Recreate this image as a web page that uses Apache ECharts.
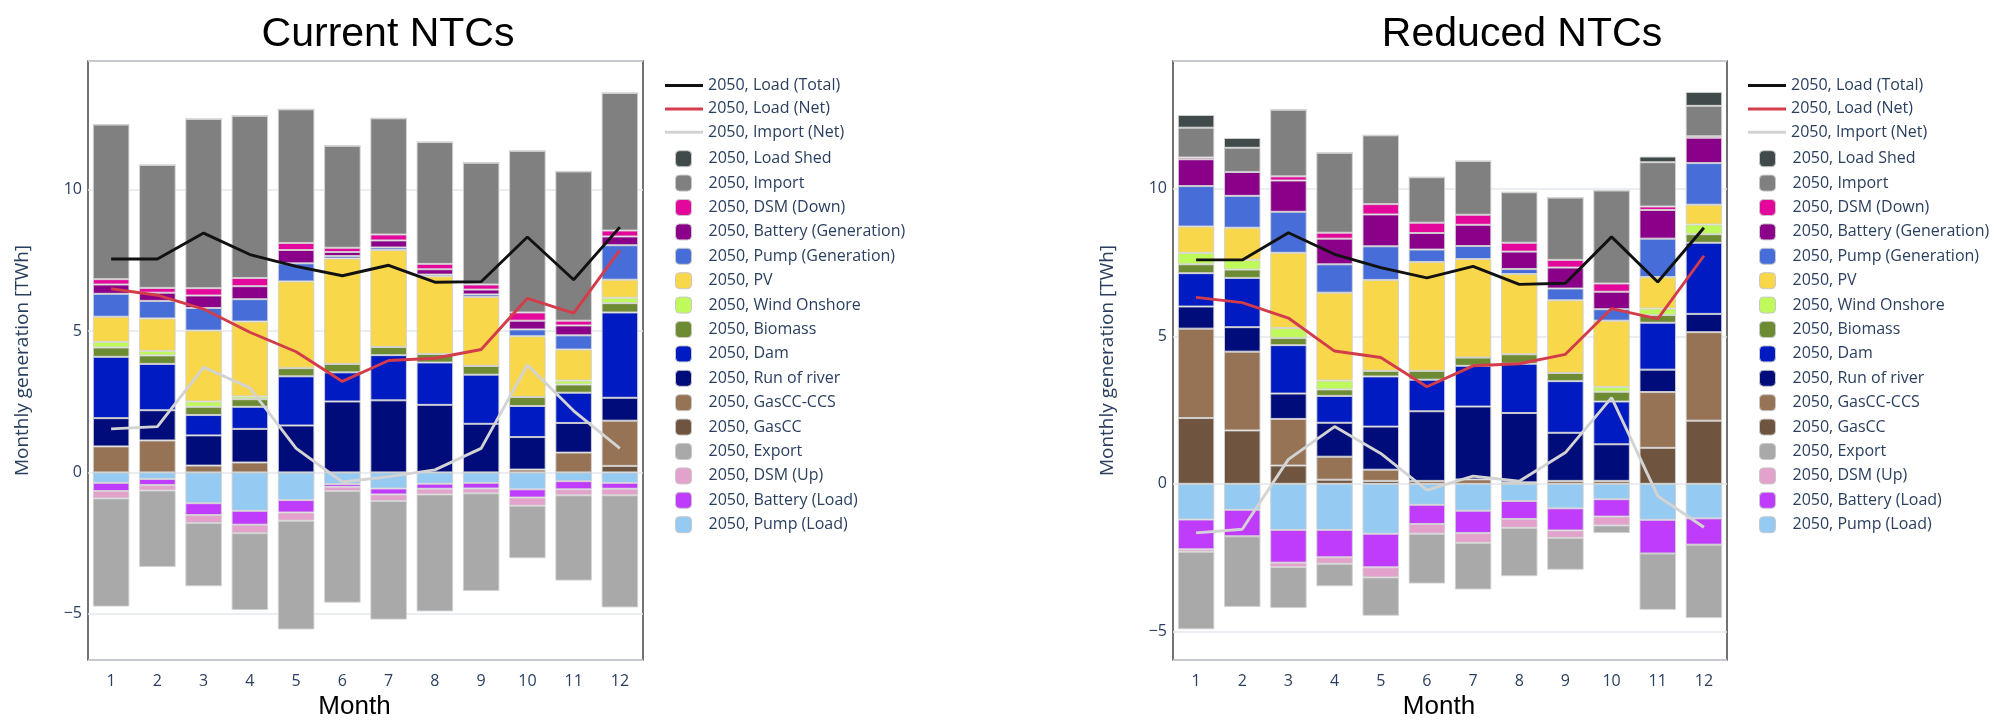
<!DOCTYPE html>
<html>
<head>
<meta charset="utf-8">
<script src="https://cdn.jsdelivr.net/npm/echarts@6/dist/echarts.min.js"></script>
<style>
html, body { margin: 0; padding: 0; background: #fff; }
#chart { width: 2010px; height: 725px; }
</style>
</head>
<body>
<div id="chart"></div>
<script>
// months on the x axis
var months = ['1', '2', '3', '4', '5', '6', '7', '8', '9', '10', '11', '12'];

// Current NTCs (TWh)
var curGasCC     = [0, 0, 0, 0, 0, 0, 0, 0, 0, 0, 0, 0.23];
var curGasCCS    = [0.92, 1.13, 0.24, 0.35, 0, 0, 0, 0, 0, 0.1, 0.70, 1.60];
var curRor       = [1.00, 1.07, 1.07, 1.19, 1.66, 2.51, 2.55, 2.39, 1.72, 1.15, 1.05, 0.81];
var curDam       = [2.17, 1.64, 0.72, 0.78, 1.74, 1.03, 1.60, 1.50, 1.74, 1.10, 1.07, 3.02];
var curBiomass   = [0.33, 0.30, 0.29, 0.27, 0.29, 0.30, 0.29, 0.30, 0.31, 0.32, 0.29, 0.33];
var curWind      = [0.20, 0.16, 0.19, 0.10, 0, 0, 0, 0, 0, 0, 0.14, 0.19];
var curPV        = [0.89, 1.15, 2.51, 2.65, 3.07, 3.73, 3.43, 2.75, 2.44, 2.15, 1.10, 0.64];
var curPumpGen   = [0.81, 0.62, 0.80, 0.79, 0.64, 0.09, 0.09, 0.06, 0.09, 0.24, 0.50, 1.22];
var curBattGen   = [0.33, 0.29, 0.44, 0.46, 0.47, 0.14, 0.25, 0.19, 0.17, 0.31, 0.35, 0.31];
var curDsmDown   = [0.19, 0.17, 0.26, 0.29, 0.25, 0.15, 0.21, 0.19, 0.18, 0.29, 0.17, 0.21];
var curImport    = [5.47, 4.35, 5.99, 5.74, 4.73, 3.61, 4.11, 4.31, 4.31, 5.72, 5.28, 4.87];
var curLoadShed  = [0, 0, 0, 0, 0, 0, 0, 0, 0, 0, 0, 0];
var curPumpLoad  = [-0.37, -0.23, -1.09, -1.36, -0.98, -0.41, -0.57, -0.40, -0.37, -0.60, -0.31, -0.37];
var curBattLoad  = [-0.29, -0.22, -0.42, -0.49, -0.44, -0.10, -0.21, -0.18, -0.20, -0.29, -0.29, -0.21];
var curDsmUp     = [-0.26, -0.19, -0.28, -0.30, -0.29, -0.15, -0.23, -0.20, -0.17, -0.29, -0.21, -0.23];
var curExport    = [-3.83, -2.71, -2.24, -2.72, -3.85, -3.95, -4.20, -4.14, -3.46, -1.86, -3.02, -3.97];
var curLoadTotal = [7.55, 7.55, 8.47, 7.71, 7.29, 6.96, 7.33, 6.73, 6.75, 8.33, 6.82, 8.68];
var curLoadNet   = [6.50, 6.27, 5.78, 4.96, 4.27, 3.22, 3.96, 4.04, 4.35, 6.16, 5.64, 7.87];
var curImportNet = [1.54, 1.62, 3.72, 2.99, 0.85, -0.34, -0.15, 0.09, 0.85, 3.80, 2.18, 0.85];

// Reduced NTCs (TWh)
var redGasCC     = [2.23, 1.81, 0.62, 0.14, 0.10, 0, 0, 0, 0, 0, 1.22, 2.14];
var redGasCCS    = [3.03, 2.67, 1.58, 0.78, 0.38, 0.10, 0.15, 0.05, 0.10, 0.10, 1.89, 3.00];
var redRor       = [0.75, 0.83, 0.86, 1.15, 1.46, 2.36, 2.47, 2.35, 1.63, 1.24, 0.76, 0.62];
var redDam       = [1.13, 1.67, 1.64, 0.91, 1.70, 1.07, 1.38, 1.67, 1.75, 1.45, 1.59, 2.41];
var redBiomass   = [0.30, 0.28, 0.24, 0.22, 0.19, 0.30, 0.28, 0.32, 0.28, 0.33, 0.26, 0.29];
var redWind      = [0.39, 0.33, 0.34, 0.30, 0, 0, 0, 0, 0, 0.16, 0.22, 0.33];
var redPV        = [0.89, 1.09, 2.55, 2.98, 3.08, 3.69, 3.34, 2.72, 2.46, 2.25, 1.07, 0.67];
var redPumpGen   = [1.37, 1.08, 1.39, 0.96, 1.14, 0.42, 0.44, 0.17, 0.40, 0.39, 1.30, 1.41];
var redBattGen   = [0.91, 0.81, 1.06, 0.87, 1.08, 0.56, 0.72, 0.59, 0.71, 0.59, 0.97, 0.86];
var redDsmDown   = [0.06, 0, 0.14, 0.20, 0.35, 0.35, 0.34, 0.30, 0.26, 0.28, 0.12, 0.05];
var redImport    = [1.01, 0.82, 2.26, 2.71, 2.33, 1.54, 1.82, 1.71, 2.11, 3.15, 1.50, 1.03];
var redLoadShed  = [0.43, 0.33, 0, 0, 0, 0, 0, 0, 0, 0, 0.19, 0.47];
var redPumpLoad  = [-1.21, -0.88, -1.56, -1.56, -1.69, -0.71, -0.91, -0.58, -0.83, -0.52, -1.22, -1.17];
var redBattLoad  = [-1.01, -0.90, -1.11, -0.93, -1.14, -0.65, -0.76, -0.61, -0.75, -0.59, -1.14, -0.89];
var redDsmUp     = [-0.08, 0, -0.15, -0.22, -0.34, -0.33, -0.33, -0.30, -0.25, -0.30, 0, 0];
var redExport    = [-2.63, -2.39, -1.39, -0.76, -1.30, -1.69, -1.58, -1.64, -1.08, -0.26, -1.91, -2.49];
var redLoadTotal = [7.59, 7.59, 8.51, 7.78, 7.33, 6.98, 7.37, 6.76, 6.80, 8.37, 6.84, 8.68];
var redLoadNet   = [6.32, 6.14, 5.62, 4.50, 4.28, 3.29, 4.00, 4.07, 4.39, 5.94, 5.59, 7.73];
var redImportNet = [-1.66, -1.54, 0.83, 1.94, 1.03, -0.21, 0.26, 0.09, 1.06, 2.92, -0.41, -1.47];

var tickColor = '#2a3f5f';
var gridColor = '#e3e7ee';

// stacking order, bottom to top (positives) and from zero downwards (negatives)
var barDefs = [
    ['2050, GasCC', '#6f553f', curGasCC, redGasCC],
    ['2050, GasCC-CCS', '#977355', curGasCCS, redGasCCS],
    ['2050, Run of river', '#000c7a', curRor, redRor],
    ['2050, Dam', '#001bc2', curDam, redDam],
    ['2050, Biomass', '#6c8b33', curBiomass, redBiomass],
    ['2050, Wind Onshore', '#c0f95c', curWind, redWind],
    ['2050, PV', '#f9d74a', curPV, redPV],
    ['2050, Pump (Generation)', '#476ed8', curPumpGen, redPumpGen],
    ['2050, Battery (Generation)', '#8b0088', curBattGen, redBattGen],
    ['2050, DSM (Down)', '#e3089b', curDsmDown, redDsmDown],
    ['2050, Import', '#808080', curImport, redImport],
    ['2050, Load Shed', '#414a4a', curLoadShed, redLoadShed],
    ['2050, Pump (Load)', '#95caf3', curPumpLoad, redPumpLoad],
    ['2050, Battery (Load)', '#c03cfc', curBattLoad, redBattLoad],
    ['2050, DSM (Up)', '#e2a2cb', curDsmUp, redDsmUp],
    ['2050, Export', '#a9a9a9', curExport, redExport]
];
var lineDefs = [
    ['2050, Load (Total)', '#111111', curLoadTotal, redLoadTotal],
    ['2050, Load (Net)', '#d33c4a', curLoadNet, redLoadNet],
    ['2050, Import (Net)', '#d3d3d3', curImportNet, redImportNet]
];

var lineLegend = lineDefs.map(function (d) { return d[0]; });
var barLegend = ['2050, Load Shed', '2050, Import', '2050, DSM (Down)', '2050, Battery (Generation)',
    '2050, Pump (Generation)', '2050, PV', '2050, Wind Onshore', '2050, Biomass', '2050, Dam',
    '2050, Run of river', '2050, GasCC-CCS', '2050, GasCC', '2050, Export', '2050, DSM (Up)',
    '2050, Battery (Load)', '2050, Pump (Load)'];

var series = [];
[0, 1].forEach(function (k) {
    barDefs.forEach(function (d) {
        series.push({
            name: d[0],
            type: 'bar',
            xAxisIndex: k,
            yAxisIndex: k,
            stack: 'gen' + k,
            stackStrategy: 'samesign',
            barCategoryGap: '21%',
            data: d[2 + k],
            itemStyle: { color: d[1], borderColor: 'rgba(210,210,210,0.9)', borderWidth: 1 },
            emphasis: { disabled: true }
        });
    });
    lineDefs.forEach(function (d) {
        series.push({
            name: d[0],
            type: 'line',
            xAxisIndex: k,
            yAxisIndex: k,
            symbol: 'none',
            z: 10,
            data: d[2 + k],
            itemStyle: { color: d[1] },
            lineStyle: { color: d[1], width: 2.9 },
            emphasis: { disabled: true }
        });
    });
});

function xAx(k) {
    return {
        type: 'category',
        gridIndex: k,
        data: months,
        name: 'Month',
        nameLocation: 'middle',
        nameGap: 34,
        nameTextStyle: { fontFamily: 'Liberation Sans', fontSize: 26, color: '#000', padding: [0, 22, 0, 0] },
        axisTick: { show: false },
        axisLine: { show: false },
        axisLabel: { color: tickColor, fontFamily: 'Open Sans', fontSize: 16, margin: 13 }
    };
}
function yAx(k, min, max) {
    return {
        type: 'value',
        gridIndex: k,
        min: min,
        max: max,
        name: 'Monthly generation [TWh]',
        nameLocation: 'middle',
        nameGap: 56,
        nameTextStyle: { fontFamily: 'Open Sans', fontSize: 19, color: tickColor },
        axisLine: { show: false },
        axisTick: { show: false },
        splitLine: { lineStyle: { color: gridColor, width: 1.5 } },
        axisLabel: { color: tickColor, fontFamily: 'Open Sans', fontSize: 16, margin: 6, showMinLabel: false, showMaxLabel: false,
            formatter: function (v) { return v < 0 ? '\u2212' + Math.abs(v) : v; } }
    };
}
// a 38x16 box with only a 3px band filled: gives a plain line icon
var lineIcon = 'path://M0,0L38,0M0,6.5L38,6.5L38,9.5L0,9.5ZM0,16L38,16';
function legends(lineLeft, barLeft) {
    var txt = { fontFamily: 'Open Sans', fontSize: 16, lineHeight: 16, color: tickColor };
    return [{
        data: lineLegend, orient: 'vertical', left: lineLeft, top: 72.5,
        icon: lineIcon, itemWidth: 38, itemHeight: 16, itemGap: 7.4, selectedMode: false,
        itemStyle: { borderWidth: 0 },
        textStyle: txt
    }, {
        data: barLegend, orient: 'vertical', left: barLeft, top: 145.2,
        itemWidth: 16, itemHeight: 16, itemGap: 7.4, selectedMode: false,
        itemStyle: { borderColor: '#c8c8c8', borderWidth: 1 },
        textStyle: Object.assign({ padding: [0, 0, 0, 12] }, txt)
    }];
}

var option = {
    animation: false,
    backgroundColor: '#fff',
    graphic: [
        { type: 'text', x: 388, y: 14, style: { text: 'Current NTCs', font: '41px "Liberation Sans"', fill: '#000', textAlign: 'center' } },
        { type: 'text', x: 1522, y: 14, style: { text: 'Reduced NTCs', font: '41px "Liberation Sans"', fill: '#000', textAlign: 'center' } }
    ],
    grid: [
        { left: 88, top: 61, width: 555, height: 609, show: true, borderColor: '#444', borderWidth: 1.5, backgroundColor: '#fff' },
        { left: 1173, top: 61, width: 554, height: 609, show: true, borderColor: '#444', borderWidth: 1.5, backgroundColor: '#fff' }
    ],
    legend: legends(660, 670).concat(legends(1743, 1754)),
    xAxis: [xAx(0), xAx(1)],
    yAxis: [yAx(0, -6.64, 14.56), yAx(1, -5.97, 14.33)],
    series: series
};

var myChart = echarts.init(document.getElementById('chart'));
myChart.setOption(option);
</script>
</body>
</html>
